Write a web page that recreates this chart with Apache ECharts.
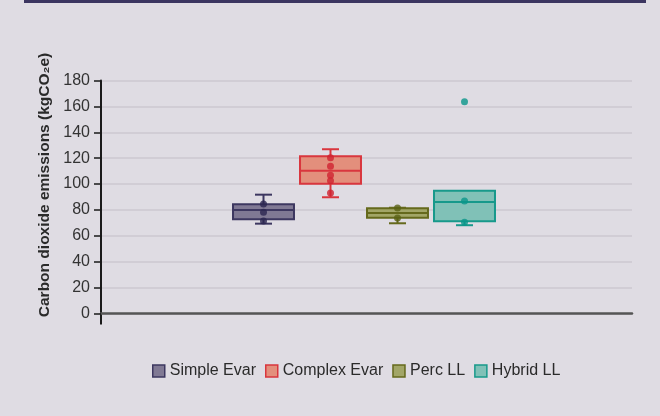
<!DOCTYPE html>
<html>
<head>
<meta charset="utf-8">
<script src="https://cdn.jsdelivr.net/npm/echarts@6/dist/echarts.min.js"></script>
<style>
  html, body { margin: 0; padding: 0; background: #dfdce3; }
  #chart { width: 660px; height: 416px; }
</style>
</head>
<body>
<div id="chart"></div>
<script>
// Emission methods and their box statistics (kgCO2e)
const categories = ['Simple Evar', 'Complex Evar', 'Perc LL', 'Hybrid LL'];
const whiskerLow = [69.4, 89.8, 69.7, 68.2];
const quartile1 = [72.8, 100.3, 74.0, 71.3];
const medians = [80.0, 110.3, 77.6, 86.2];
const quartile3 = [84.4, 121.4, 81.3, 94.9];
const whiskerHigh = [91.8, 126.9, 81.7, 94.9];

// Individual observations per method
const simpleEvarPoints = [84.6, 78.2, 71.5];
const complexEvarPoints = [120.4, 113.7, 106.8, 102.6, 93.1];
const percLLPoints = [81.5, 73.8];
const hybridLLPoints = [163.6, 86.9, 70.5];
const observations = [simpleEvarPoints, complexEvarPoints, percLLPoints, hybridLLPoints];

// Y axis scale
const yMin = 0;
const yMax = 180;
const yStep = 20;

const fillColors = ['#807994', '#e38f7c', '#a2a667', '#80c1b7'];
const lineColors = ['#3d3760', '#d9363e', '#65691c', '#17998b'];
const dotColors = ['#2b2650', '#cf2230', '#5a6115', '#0a968a'];

const FONT = "'Liberation Sans', Arial, sans-serif";

const chart = echarts.init(document.getElementById('chart'), null, { renderer: 'canvas' });

function renderBox(params, api) {
  const idx = api.value(0);
  const x = api.coord([idx, 0])[0];
  const band = api.size([1, 0])[0];
  const half = band * 0.455;
  const capHalf = 8.5;
  const lo = api.value(1), q1 = api.value(2), med = api.value(3), q3 = api.value(4), hi = api.value(5);
  const yLow = api.coord([idx, lo])[1];
  const yQ1 = api.coord([idx, q1])[1];
  const yMed = api.coord([idx, med])[1];
  const yQ3 = api.coord([idx, q3])[1];
  const yHigh = api.coord([idx, hi])[1];
  const stroke = lineColors[idx];
  const lineStyle = { stroke: stroke, lineWidth: 2, fill: null };
  const children = [];
  if (hi > q3) {
    children.push({ type: 'line', shape: { x1: x, y1: yHigh, x2: x, y2: yQ3 }, style: lineStyle });
    children.push({ type: 'line', shape: { x1: x - capHalf, y1: yHigh, x2: x + capHalf, y2: yHigh }, style: lineStyle });
  }
  if (lo < q1) {
    children.push({ type: 'line', shape: { x1: x, y1: yQ1, x2: x, y2: yLow }, style: lineStyle });
    children.push({ type: 'line', shape: { x1: x - capHalf, y1: yLow, x2: x + capHalf, y2: yLow }, style: lineStyle });
  }
  children.push({ type: 'rect', shape: { x: x - half, y: yQ3, width: half * 2, height: yQ1 - yQ3 },
    style: { fill: fillColors[idx], stroke: stroke, lineWidth: 2 } });
  children.push({ type: 'line', shape: { x1: x - half, y1: yMed, x2: x + half, y2: yMed }, style: lineStyle });
  return { type: 'group', children: children };
}

const series = [];
categories.forEach(function (name, i) {
  series.push({
    name: name,
    type: 'custom',
    xAxisIndex: 1,
    yAxisIndex: 1,
    z: 2,
    itemStyle: { color: fillColors[i] },
    renderItem: renderBox,
    data: [[i, whiskerLow[i], quartile1[i], medians[i], quartile3[i], whiskerHigh[i]]]
  });
  series.push({
    name: name,
    type: 'scatter',
    xAxisIndex: 1,
    yAxisIndex: 1,
    z: 3,
    symbol: 'circle',
    symbolSize: 7,
    itemStyle: { color: dotColors[i] },
    data: observations[i].map(function (v) { return [i, v]; })
  });
});

const option = {
  backgroundColor: '#dfdce3',
  animation: false,
  grid: [
    { left: 101, right: 28, top: 80.5, bottom: 102.5 },
    { left: 230, width: 268, top: 80.5, bottom: 102.5 }
  ],
  xAxis: [
    {
      gridIndex: 0, type: 'value', min: 0, max: 1,
      axisLine: { show: true, onZero: false, lineStyle: { color: '#555555', width: 2.5 } },
      axisTick: { show: false }, axisLabel: { show: false }, splitLine: { show: false }
    },
    {
      gridIndex: 1, type: 'category', data: categories, boundaryGap: true,
      axisLine: { show: false }, axisTick: { show: false }, axisLabel: { show: false }
    }
  ],
  yAxis: [
    {
      gridIndex: 0, type: 'value', min: yMin, max: yMax, interval: yStep,
      name: 'Carbon dioxide emissions (kgCO₂e)',
      nameLocation: 'middle',
      nameRotate: 90,
      nameGap: 44,
      nameTextStyle: {
        fontFamily: FONT, fontSize: 15.5, fontWeight: 'bold', color: '#2a2a2a',
        padding: [0, 0, 0, 24]
      },
      axisLine: { show: true, lineStyle: { color: '#1a1a1a', width: 2 } },
      axisTick: { show: true, length: 7, lineStyle: { color: '#1a1a1a', width: 1.5 } },
      axisLabel: { margin: 11, fontFamily: FONT, fontSize: 16, color: '#333333' },
      splitLine: { show: true, lineStyle: { color: '#ccc9d0', width: 1.5 } }
    },
    {
      gridIndex: 1, type: 'value', min: yMin, max: yMax, interval: yStep,
      axisLine: { show: false }, axisTick: { show: false }, axisLabel: { show: false },
      splitLine: { show: false }
    }
  ],
  legend: {
    left: 147,
    top: 358,
    itemWidth: 12,
    itemHeight: 12,
    itemGap: 9,
    icon: 'rect',
    textStyle: { fontFamily: FONT, fontSize: 16, color: '#2b2b2b' },
    data: categories.map(function (name, i) {
      return {
        name: name,
        icon: 'rect',
        itemStyle: { color: fillColors[i], borderColor: lineColors[i], borderWidth: 1.5 }
      };
    })
  },
  series: series
};

chart.setOption(option);

// Decorative rule across the top and the y axis stub below zero
const zeroPt = chart.convertToPixel({ gridIndex: 0 }, [0, 0]);
chart.setOption({
  graphic: [
    { type: 'rect', shape: { x: 24, y: 0, width: 622, height: 3 }, style: { fill: '#3b3560' }, silent: true },
    { type: 'line', shape: { x1: zeroPt[0], y1: zeroPt[1], x2: zeroPt[0], y2: zeroPt[1] + 11 },
      style: { stroke: '#1a1a1a', lineWidth: 2 }, silent: true }
  ]
});
</script>
</body>
</html>
